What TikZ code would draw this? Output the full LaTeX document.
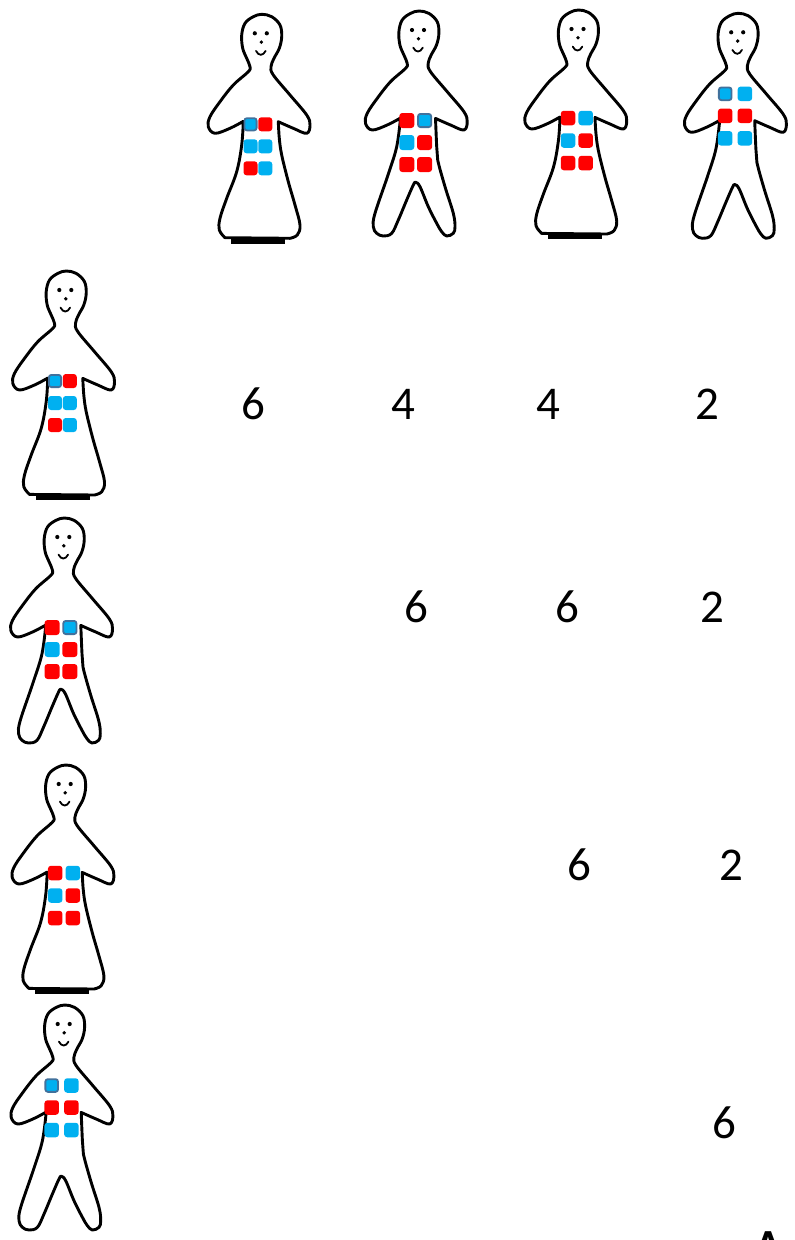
\documentclass[tikz,border=0pt]{standalone}
\usepackage{fontspec}
\setmainfont{Carlito}
\definecolor{cellred}{RGB}{255,0,0}
\definecolor{cellblue}{RGB}{0,176,240}
\definecolor{cellrim}{RGB}{65,113,156}

% one coloured cell: centre x, centre y, size, colour
\newcommand\cell[4]{\fill[#4, rounded corners=3pt] ({#1-#3/2},{#2-#3/2}) rectangle ({#1+#3/2},{#2+#3/2});}
% a marked cell with a dark rim
\newcommand\markedcell[3]{\draw[fill=cellblue, draw=cellrim, line width=1.8pt, rounded corners=2.5pt] ({#1-#3/2+0.9},{#2-#3/2+0.9}) rectangle ({#1+#3/2-0.9},{#2+#3/2-0.9});}

\tikzset{
  figline/.style={line width=2.9pt, line join=round, line cap=round, draw=black, fill=white},
  hembar/.style={line width=5.5pt, line cap=butt},
  smile/.style={line width=1.8pt, line cap=round},
  count/.style={font=\fontsize{47}{50}\selectfont, inner sep=0pt},
  pics/face/.style={code={
    \fill (-6,0) circle (2.1);
    \fill (6,0) circle (2.1);
    \fill (0.5,8.8) circle (1.9);
    \draw[smile] (-4.8,17.6) .. controls (-2.2,22.8) and (2.2,22.8) .. (4.8,17.6);
  }},
  pics/dressfig/.style={code={
    \draw[figline] plot[smooth, tension=0.6] coordinates {(-17.5,88) (-30.8,95) (-45.8,100) (-52.5,93.4) (-50.8,83.4) (-40.8,68.4) (-27.5,51.7) (-12.5,38.4) (-10.8,33.4) (-14.1,25) (-18.1,15) (-19.1,1.7) (-15.8,-10) (-7.5,-16.6) (1,-19) (10.9,-16.6) (19.2,-8.3) (20.9,3.4) (18.5,15) (13.2,25) (10.2,33.4) (12.5,41.7) (29.2,61.7) (45.9,81.7) (49.2,91.7) (45.9,100) (32.5,95) (17.5,88.4)}
      -- plot[smooth, tension=0.6] coordinates {(17.5,88.4) (18.5,105) (20.9,121.7) (27.5,148.4) (34.2,171.7) (39.2,191.7) (36.5,201.7) (29.2,205)}
      -- plot[smooth, tension=0.6] coordinates {(-35.8,204.4) (-41.5,196.7) (-40.8,185) (-34.1,165) (-24.1,138.4) (-19.1,111.7) (-17.5,88)} -- cycle;
    \draw[hembar] (-29.8,207.5) -- (24.2,207.5);
    \pic {face};
  }},
  pics/legsfig/.style={code={
    \draw[figline] plot[smooth, tension=0.6] coordinates {(-17.5,88) (-30.8,95) (-45.8,100) (-52.5,93.4) (-50.8,83.4) (-40.8,68.4) (-27.5,51.7) (-12.5,38.4) (-10.8,33.4) (-14.1,25) (-18.1,15) (-19.1,1.7) (-15.8,-10) (-7.5,-16.6) (1,-19) (10.9,-16.6) (19.2,-8.3) (20.9,3.4) (18.5,15) (13.2,25) (10.2,33.4) (12.5,41.7) (29.2,61.7) (45.9,81.7) (49.2,91.7) (45.9,100) (32.5,95) (17.5,88.4)}
      -- plot[smooth, tension=0.6] coordinates {(17.5,88.4) (18.7,116.7) (19.7,130) (27,156.7) (35.3,183.3) (37,196.7) (35.3,203.3) (28.7,206) (23.7,201.7) (18.7,193.3) (10.3,176.7) (2,156.7) (-2.3,152.3) (-4.7,155) (-11.3,170) (-19.7,190) (-26.3,203.3) (-34.7,206) (-41.3,203.3) (-44.7,196.7) (-43,183.3) (-30,145) (-21.3,116.7) (-17.5,88)} -- cycle;
    \pic {face};
  }},
  % person with dress: cells blue(marked) red / blue blue / red blue
  pics/personA/.style={code={
    \pic {dressfig};
    \markedcell{-10.3}{91}{14} \cell{4.5}{91}{14}{cellred}
    \cell{-10.3}{113}{14}{cellblue} \cell{4.5}{113}{14}{cellblue}
    \cell{-10.3}{135}{14}{cellred} \cell{4.5}{135}{14}{cellblue}
  }},
  % person with legs: red blue(marked) / blue red / red red
  pics/personB/.style={code={
    \pic {legsfig};
    \cell{-11.2}{90.5}{15}{cellred} \markedcell{6.6}{90.5}{15}
    \cell{-11.2}{112.5}{15}{cellblue} \cell{6.6}{112.5}{15}{cellred}
    \cell{-11.2}{134.5}{15}{cellred} \cell{6.6}{134.5}{15}{cellred}
  }},
  % person with dress: red blue / blue red / red red
  pics/personC/.style={code={
    \pic {dressfig};
    \cell{-9.5}{89}{14.5}{cellred} \cell{8.2}{89}{14.5}{cellblue}
    \cell{-9.5}{111.5}{14.5}{cellblue} \cell{8.2}{111.5}{14.5}{cellred}
    \cell{-9.5}{134}{14.5}{cellred} \cell{8.2}{134}{14.5}{cellred}
  }},
  % person with legs: blue(marked) blue / red red / blue blue
  pics/personD/.style={code={
    \pic {legsfig};
    \markedcell{-12}{61.5}{14.5} \cell{7.7}{61.5}{14.5}{cellblue}
    \cell{-12}{83.5}{14.5}{cellred} \cell{7.7}{83.5}{14.5}{cellred}
    \cell{-12}{106}{14.5}{cellblue} \cell{7.7}{106}{14.5}{cellblue}
  }},
}

\begin{document}
\begin{tikzpicture}[x=1pt, y=-1pt]
  \useasboundingbox (0,0) rectangle (795,1240);
  \fill[white] (0,0) rectangle (795,1240);
  \clip (0,0) rectangle (795,1240);

  % column heads
  \pic (topA) at (260.8,33.3) {personA};
  \pic (topB) at (418,30) {personB};
  \pic (topC) at (577.5,29) {personC};
  \pic (topD) at (737.2,32.3) {personD};

  % row heads
  \pic (rowA) at (65.3,290) {personA};
  \pic (rowB) at (63.3,537) {personB};
  \pic (rowC) at (64.7,784) {personC};
  \pic (rowD) at (63.7,1024) {personD};

  % pair counts
  \node[count] (aa) at (253,404) {6};
  \node[count] (ab) at (403,404) {4};
  \node[count] (ac) at (548,404) {4};
  \node[count] (ad) at (707,404) {2};
  \node[count] (bb) at (416,607) {6};
  \node[count] (bc) at (567,607) {6};
  \node[count] (bd) at (712,607) {2};
  \node[count] (cc) at (579,865) {6};
  \node[count] (cd) at (731,865) {2};
  \node[count] (dd) at (724,1123) {6};

  \node[font=\fontsize{46}{50}\selectfont\bfseries, anchor=north, inner sep=0pt] (tag) at (768,1231.5) {A};
\end{tikzpicture}
\end{document}
